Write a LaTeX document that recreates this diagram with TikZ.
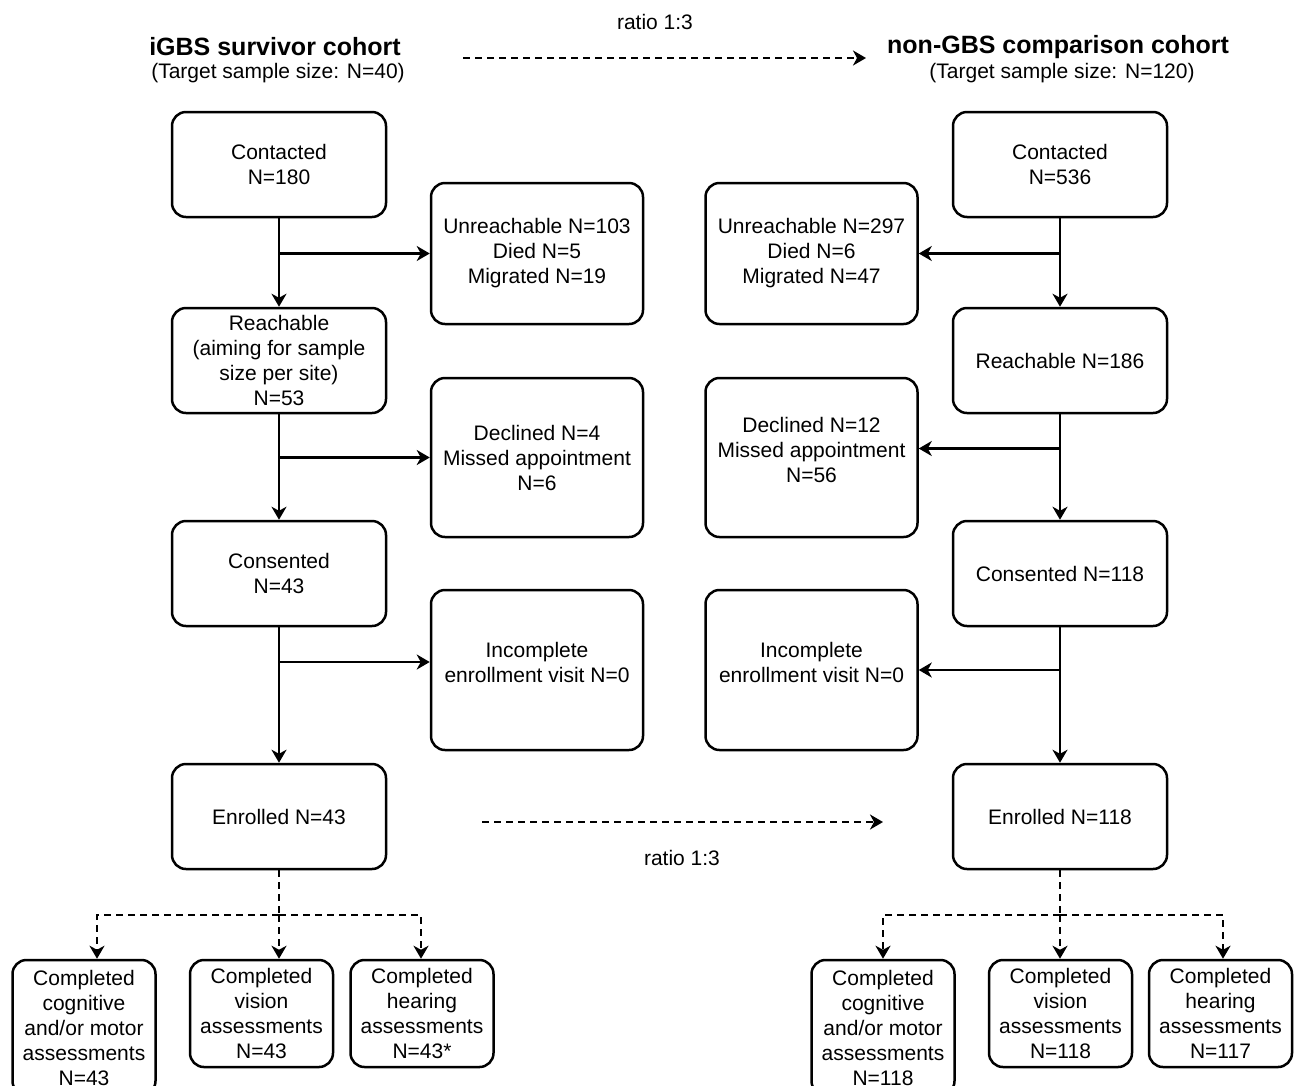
\documentclass[tikz,border=0pt]{standalone}
\usepackage{fontspec}
\setmainfont{Liberation Sans}
\usetikzlibrary{arrows.meta, positioning}

\begin{document}
\begin{tikzpicture}[
    x=1pt, y=-1pt,
    box/.style={
        draw=black,
        line width=2.5pt,
        rounded corners=14pt,
        align=center,
        inner sep=2pt,
        font=\fontsize{21}{25}\selectfont
    },
    mainbox/.style={box, minimum width=214pt, minimum height=105pt},
    sidebox/.style={box, minimum width=212pt},
    subbox/.style={box, minimum width=143pt, minimum height=107pt},
    raised/.style={text depth=16pt},  % 文字略靠上
    flow/.style={line width=2.5pt, -{Stealth[length=13pt,width=15pt,inset=4pt]}},
    dline/.style={line width=2.5pt, dash pattern=on 7pt off 5pt},
    dflow/.style={flow, dash pattern=on 7pt off 5pt},
    title/.style={font=\bfseries\fontsize{25}{26}\selectfont},
    plain/.style={font=\fontsize{21}{25}\selectfont}
]
    % 白底, 固定画面大小
    \fill[white, use as bounding box] (0,0) rectangle (1295,1085);

    % 标题
    \node[title] (titL) at (275,47) {iGBS survivor cohort};
    \node[plain] (subL) at (278,73) {(Target sample size: N=40)};
    \node[title] (titR) at (1058,47) {non-GBS comparison cohort};
    \node[plain] (subR) at (1062,73) {(Target sample size: N=120)};
    \node[plain] (ratioTop) at (655,22) {ratio 1:3};
    \coordinate (topA) at (463,58);
    \coordinate (topB) at (866,58);
    \draw[dflow] (topA) -- (topB);

    % 左列
    \node[mainbox] (conL) at (279,164.5) {Contacted\\N=180};
    \node[mainbox] (reaL) at (279,360.5) {Reachable\\(aiming for sample\\size per site)\\N=53};
    \node[mainbox] (cnsL) at (279,573.5) {Consented\\N=43};
    \node[mainbox] (enrL) at (279,816.5) {Enrolled N=43};
    \node[sidebox, minimum height=141pt] (unrL) at (537,253.5) {Unreachable N=103\\Died N=5\\Migrated N=19};
    \node[sidebox, minimum height=159pt] (decL) at (537,457.5) {Declined N=4\\Missed appointment\\N=6};
    \node[sidebox, minimum height=160pt, raised] (incL) at (537,670) {Incomplete\\enrollment visit N=0};

    % 右列
    \node[mainbox] (conR) at (1060,164.5) {Contacted\\N=536};
    \node[mainbox] (reaR) at (1060,360.5) {Reachable N=186};
    \node[mainbox] (cnsR) at (1060,573.5) {Consented N=118};
    \node[mainbox] (enrR) at (1060,816.5) {Enrolled N=118};
    \node[sidebox, minimum height=141pt] (unrR) at (811.5,253.5) {Unreachable N=297\\Died N=6\\Migrated N=47};
    \node[sidebox, minimum height=159pt, raised] (decR) at (811.5,457.5) {Declined N=12\\Missed appointment\\N=56};
    \node[sidebox, minimum height=160pt, raised] (incR) at (811.5,670) {Incomplete\\enrollment visit N=0};

    % 评估结果
    \node[subbox, minimum height=135pt] (cogL) at (84,1027.5) {Completed\\cognitive\\and/or motor\\assessments\\N=43};
    \node[subbox] (visL) at (261.5,1013.5) {Completed\\vision\\assessments\\N=43};
    \node[subbox] (hearL) at (422,1013.5) {Completed\\hearing\\assessments\\N=43*};
    \node[subbox, minimum height=135pt] (cogR) at (883,1027.5) {Completed\\cognitive\\and/or motor\\assessments\\N=118};
    \node[subbox] (visR) at (1060.5,1013.5) {Completed\\vision\\assessments\\N=118};
    \node[subbox] (hearR) at (1220.5,1013.5) {Completed\\hearing\\assessments\\N=117};

    % 主流程连线
    \draw[flow] (conL.south) -- (reaL.north);
    \draw[flow] (reaL.south) -- (cnsL.north);
    \draw[flow] (cnsL.south) -- (enrL.north);
    \draw[flow] (conL.south |- unrL.west) -- (unrL.west);
    \draw[flow] (reaL.south |- decL.west) -- (decL.west);
    \draw[flow] (cnsL.south |- incL.west) ++(0,-8) -- ([yshift=8pt]incL.west);

    \draw[flow] (conR.south) -- (reaR.north);
    \draw[flow] (reaR.south) -- (cnsR.north);
    \draw[flow] (cnsR.south) -- (enrR.north);
    \draw[flow] (conR.south |- unrR.east) -- (unrR.east);
    \draw[flow] (reaR.south |- decR.east) ++(0,-9) -- ([yshift=9pt]decR.east);
    \draw[flow] (cnsR.south |- incR.east) -- (incR.east);

    % 1:3 匹配
    \coordinate (midA) at (482,822);
    \coordinate (midB) at (883,822);
    \draw[dflow] (midA) -- (midB);
    \node[plain] (ratioBot) at (682,858) {ratio 1:3};

    % 虚线分支
    \coordinate (jL) at (279,915);
    \draw[dline] (enrL.south) -- (jL);
    \draw[dflow] (jL) -| ([xshift=13pt]cogL.north);
    \draw[dflow] (jL) -- ([xshift=17.5pt]visL.north);
    \draw[dflow] (jL) -| ([xshift=-1pt]hearL.north);

    \coordinate (jR) at (1060,915);
    \draw[dline] (enrR.south) -- (jR);
    \draw[dflow] (jR) -| (cogR.north);
    \draw[dflow] (jR) -- (jR |- visR.north);
    \draw[dflow] (jR) -| ([xshift=2.5pt]hearR.north);
\end{tikzpicture}
\end{document}
